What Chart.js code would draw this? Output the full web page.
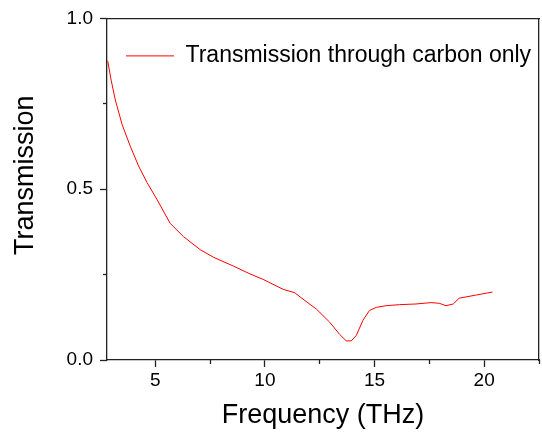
<!DOCTYPE html>
<html>
<head>
<meta charset="utf-8">
<script src="https://cdn.jsdelivr.net/npm/chart.js@4/dist/chart.umd.min.js"></script>
<style>
  html, body { margin: 0; padding: 0; background: #fff; }
  #wrap { width: 542px; height: 440px; }
</style>
</head>
<body>
<div id="wrap"><canvas id="myChart" width="542" height="440"></canvas></div>
<script>
// frequency (THz) and transmission
const freq = [2.83, 2.99, 3.18, 3.49, 3.86, 4.24, 4.62, 5.08, 5.68, 6.29, 7.05, 7.65, 8.56, 9.32, 9.92,
  10.83, 11.36, 11.74, 12.35, 12.95, 13.41, 13.71, 13.94, 14.17, 14.47, 14.77, 15.08, 15.53, 16.14,
  16.89, 17.58, 17.95, 18.26, 18.59, 18.86, 19.62, 20.38];
const transmission = [0.876, 0.819, 0.761, 0.689, 0.626, 0.568, 0.520, 0.470, 0.400, 0.361, 0.323, 0.301, 0.275, 0.252, 0.236,
  0.207, 0.197, 0.178, 0.149, 0.111, 0.075, 0.056, 0.056, 0.072, 0.116, 0.145, 0.154, 0.159, 0.162,
  0.164, 0.168, 0.166, 0.159, 0.164, 0.181, 0.190, 0.199];
const seriesLabel = 'Transmission through carbon only';
const xTicks = [5, 10, 15, 20];
const xMinorTicks = [7.5, 12.5, 17.5, 22.5];
const yTicks = [0, 0.5, 1.0];
const yMinorTicks = [0.25, 0.75];

const font = "Arial, 'Liberation Sans', sans-serif";
const axisColor = '#222';

const setTicks = (vals) => (s) => { s.ticks = vals.map(v => ({value: v})); };

// legend sits inside the plot; y title sits a little above centre
const tweaks = {
  id: 'tweaks',
  afterLayout(chart) {
    chart.scales.y.bottom -= 28;
  },
  beforeDraw(chart) {
    chart.legend.top = chart.chartArea.top + 7;
  }
};

const ctx = document.getElementById('myChart').getContext('2d');
const myChart = new Chart(ctx, {
  type: 'line',
  data: {
    datasets: [{
      label: seriesLabel,
      data: freq.map((f, i) => ({x: f, y: transmission[i]})),
      borderColor: '#ff0000',
      backgroundColor: '#ff0000',
      borderWidth: 1,
      pointRadius: 0,
      tension: 0,
      clip: false,
      xAxisID: 'x',
      yAxisID: 'y'
    }]
  },
  options: {
    responsive: false,
    animation: false,
    devicePixelRatio: 1,
    layout: { padding: 0 },
    plugins: {
      tooltip: { enabled: false },
      legend: {
        position: 'chartArea',
        align: 'start',
        labels: {
          usePointStyle: true,
          pointStyle: 'line',
          pointStyleWidth: 48,
          padding: 19,
          color: '#000',
          font: { family: font, size: 23 }
        }
      }
    },
    scales: {
      x: {
        type: 'linear',
        position: 'bottom',
        weight: 1,
        min: 2.8,
        max: 22.5,
        afterBuildTicks: setTicks(xTicks),
        afterFit: (s) => { s.height = 80; },
        grid: { drawOnChartArea: false, tickLength: 7, tickColor: axisColor, tickWidth: 1.3 },
        border: { display: true, color: axisColor, width: 1.3 },
        ticks: { color: '#000', padding: 2, font: { family: font, size: 19 } },
        title: {
          display: true,
          text: 'Frequency (THz)',
          color: '#000',
          padding: { top: 0, bottom: 8 },
          font: { family: font, size: 27 }
        }
      },
      xMinor: {
        type: 'linear',
        position: 'bottom',
        weight: -1,
        min: 2.8,
        max: 22.5,
        afterBuildTicks: setTicks(xMinorTicks),
        afterFit: (s) => { s.height = 0; },
        grid: { drawOnChartArea: false, tickLength: 4, tickColor: axisColor, tickWidth: 1.3 },
        border: { display: false },
        ticks: { display: false }
      },
      xTop: {
        type: 'linear',
        position: 'top',
        min: 2.8,
        max: 22.5,
        afterFit: (s) => { s.height = 14; },
        grid: { drawOnChartArea: false, drawTicks: false },
        border: { display: true, color: axisColor, width: 1.3 },
        ticks: { display: false }
      },
      y: {
        type: 'linear',
        position: 'left',
        weight: 1,
        min: 0,
        max: 1,
        afterBuildTicks: setTicks(yTicks),
        afterFit: (s) => { s.width = 107; },
        grid: { drawOnChartArea: false, tickLength: 7, tickColor: axisColor, tickWidth: 1.3 },
        border: { display: false },
        ticks: {
          color: '#000',
          padding: 7,
          font: { family: font, size: 19 },
          callback: (v) => v.toFixed(1)
        },
        title: {
          display: true,
          text: 'Transmission',
          color: '#000',
          padding: { top: 9, bottom: 0 },
          font: { family: font, size: 27 }
        }
      },
      yMinor: {
        type: 'linear',
        position: 'left',
        weight: -1,
        min: 0,
        max: 1,
        afterBuildTicks: setTicks(yMinorTicks),
        afterFit: (s) => { s.width = 0; },
        grid: { drawOnChartArea: false, tickLength: 4, tickColor: axisColor, tickWidth: 1.3 },
        border: { display: true, color: axisColor, width: 1.3 },
        ticks: { display: false }
      },
      yRight: {
        type: 'linear',
        position: 'right',
        min: 0,
        max: 1,
        afterFit: (s) => { s.width = 3; },
        grid: { drawOnChartArea: false, drawTicks: false },
        border: { display: true, color: axisColor, width: 1.3 },
        ticks: { display: false }
      }
    }
  },
  plugins: [tweaks]
});
</script>
</body>
</html>
